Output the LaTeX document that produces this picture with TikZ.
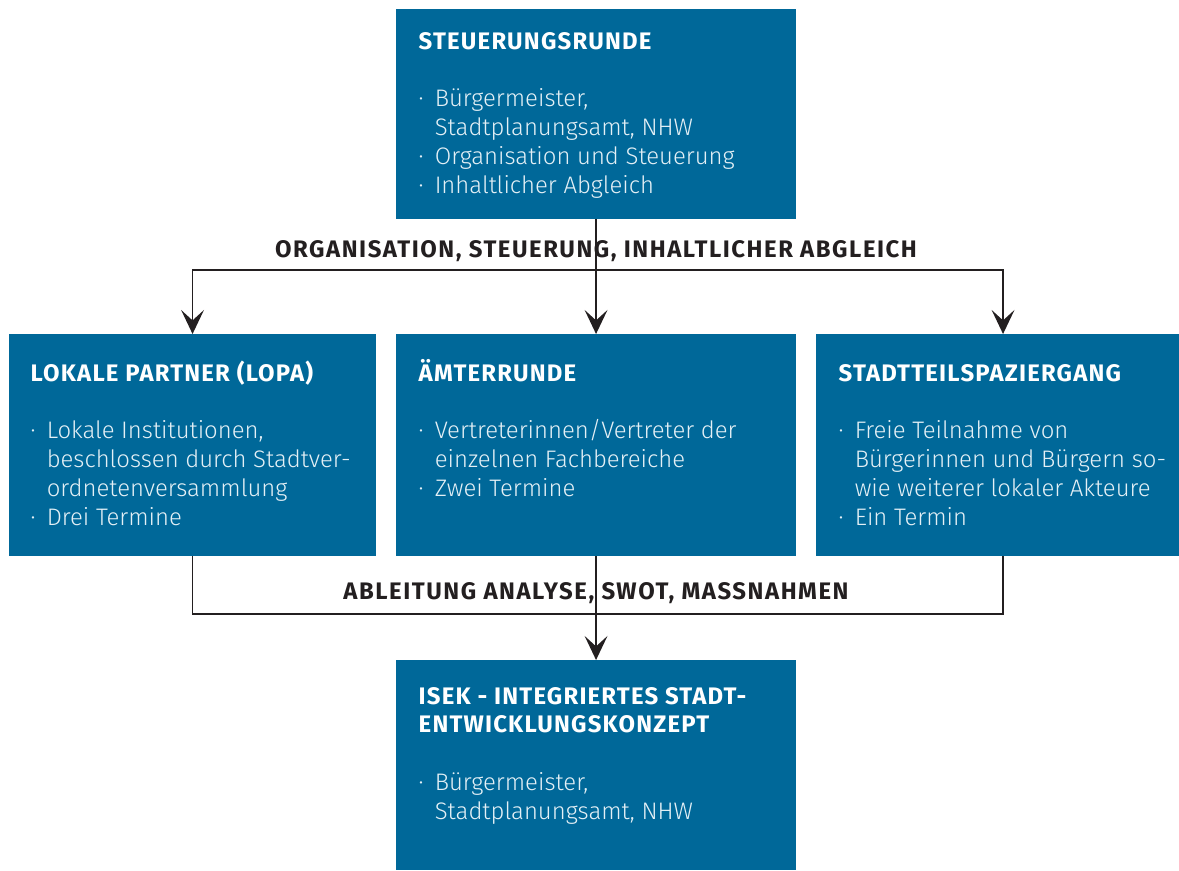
\documentclass[tikz,border=0pt]{standalone}
\usepackage{fontspec}
\setmainfont{Fira Sans Light}[BoldFont={Fira Sans Bold}]
\usepackage{xcolor}
\definecolor{ISEKBlue}{RGB}{0, 104, 153}
\definecolor{ISEKLine}{RGB}{35, 31, 32}
\definecolor{ISEKText}{RGB}{228, 240, 246}
\usetikzlibrary{arrows.meta}

\newcommand\bul{\makebox[11.4pt][l]{·}}
\newcommand\cont{\hspace*{11.4pt}}
\newcommand\hd[1]{{\bfseries\addfontfeatures{LetterSpace=5}\color{white}#1}}

\begin{document}
\begin{tikzpicture}[x=0.025cm,y=-0.025cm,>={Stealth[length=0.6cm,width=0.57cm,inset=0.26cm]},
                    line width=1.05pt]
  \tikzstyle{box}=[fill=ISEKBlue,draw=none,anchor=north west,inner sep=0pt,outer sep=0pt]
  \tikzstyle{boxtext}=[anchor=base west,inner sep=0pt,text=ISEKText,font=\fontsize{17}{20.6}\selectfont]
  \tikzstyle{flowlabel}=[anchor=base,inner sep=0pt,text=ISEKLine,font=\fontsize{17}{20}\selectfont\bfseries\addfontfeatures{LetterSpace=6.5}]
  \tikzstyle{flow}=[draw=ISEKLine]

  \useasboundingbox (0,0) rectangle (1179,870);

  \node[box, minimum width=10cm,    minimum height=5.25cm] (steuer) at (396,9)   {};
  \node[box, minimum width=9.175cm, minimum height=5.55cm] (lopa)   at (9,334)   {};
  \node[box, minimum width=10cm,    minimum height=5.55cm] (amter)  at (396,334) {};
  \node[box, minimum width=9.35cm,  minimum height=5.55cm] (stadt)  at (816,334) {};
  \node[box, minimum width=10cm,    minimum height=5.25cm] (isek)   at (396,660) {};

  \node[boxtext] (steuertext) at (418,49) {\begin{tabular}[t]{@{}l@{}}
    \hd{STEUERUNGSRUNDE}\\[20.6pt]
    \bul Bürgermeister,\\
    \cont Stadtplanungsamt, NHW\\
    \bul Organisation und Steuerung\\
    \bul Inhaltlicher Abgleich
  \end{tabular}};
  \node[boxtext] (lopatext) at (30,381) {\begin{tabular}[t]{@{}l@{}}
    \hd{LOKALE PARTNER (LOPA)}\\[20.6pt]
    \bul Lokale Institutionen,\\
    \cont beschlossen durch Stadtver-\\
    \cont ordnetenversammlung\\
    \bul Drei Termine
  \end{tabular}};
  \node[boxtext] (amtertext) at (418,381) {\begin{tabular}[t]{@{}l@{}}
    \hd{ÄMTERRUNDE}\\[20.6pt]
    \bul Vertreterinnen/Vertreter der\\
    \cont einzelnen Fachbereiche\\
    \bul Zwei Termine
  \end{tabular}};
  \node[boxtext] (stadttext) at (838,381) {\begin{tabular}[t]{@{}l@{}}
    \hd{STADTTEILSPAZIERGANG}\\[20.6pt]
    \bul Freie Teilnahme von\\
    \cont Bürgerinnen und Bürgern so-\\
    \cont wie weiterer lokaler Akteure\\
    \bul Ein Termin
  \end{tabular}};
  \node[boxtext] (isektext) at (418,704) {\begin{tabular}[t]{@{}l@{}}
    \hd{ISEK - INTEGRIERTES STADT-}\\
    \hd{ENTWICKLUNGSKONZEPT}\\[20.6pt]
    \bul Bürgermeister,\\
    \cont Stadtplanungsamt, NHW
  \end{tabular}};

  \coordinate (orgline) at (596,270);
  \coordinate (ableitline) at (596,614);
  \node[flowlabel] (orglabel)    at (596,257) {ORGANISATION, STEUERUNG, INHALTLICHER ABGLEICH};
  \node[flowlabel] (ableitlabel) at (596,599) {ABLEITUNG ANALYSE, SWOT, MASSNAHMEN};

  % verteilung von oben
  \draw[flow,->] (steuer.south) -- (amter.north);
  \draw[flow,->] (orgline) -| (lopa.north);
  \draw[flow,->] (orgline) -| (stadt.north);

  % zusammenfuehrung nach unten
  \draw[flow] (lopa.south) |- (ableitline) -| (stadt.south);
  \draw[flow,->] (amter.south) -- (isek.north);
\end{tikzpicture}
\end{document}
